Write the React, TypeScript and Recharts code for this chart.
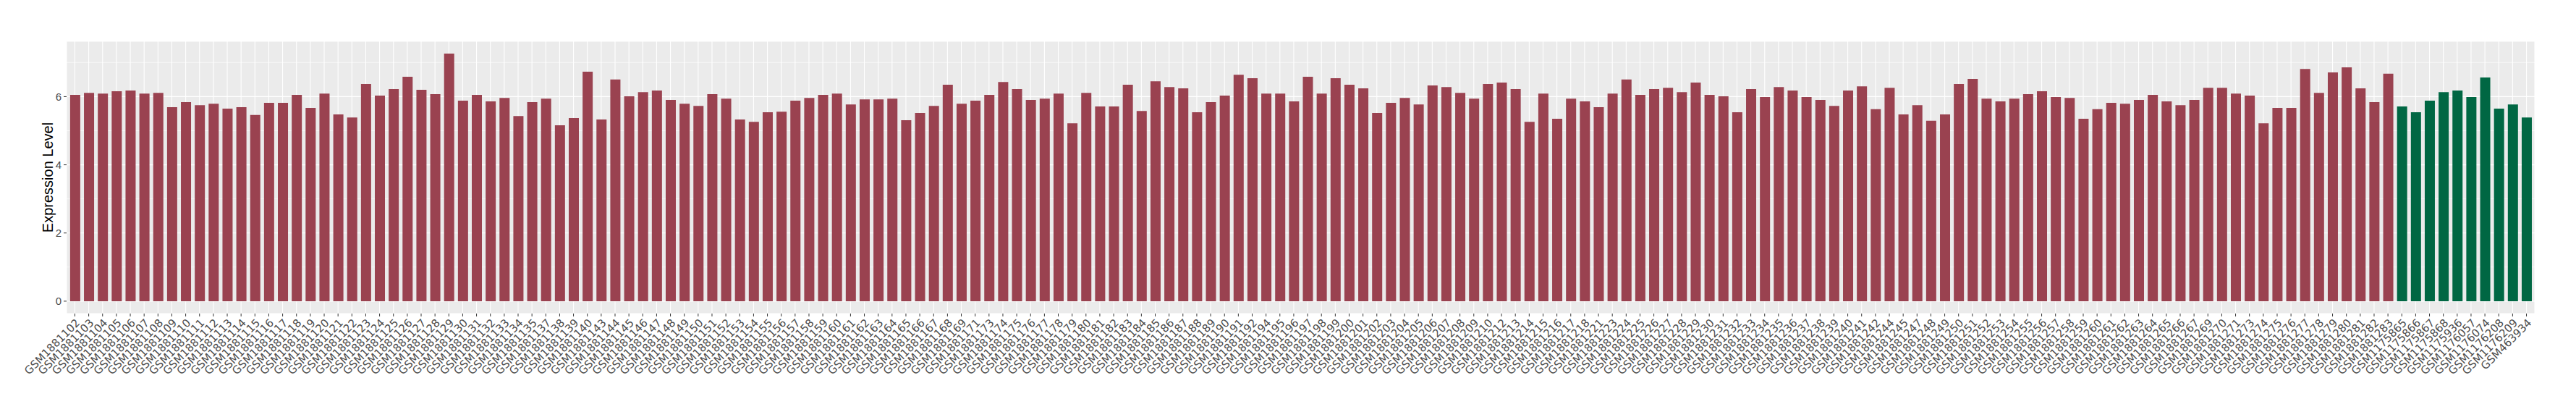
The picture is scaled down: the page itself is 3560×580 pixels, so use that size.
import React from 'react';
import { BarChart, Bar, XAxis, YAxis, CartesianGrid, Cell } from 'recharts';

const redIds: string[] = [
  'GSM1881102','GSM1881103','GSM1881104','GSM1881105','GSM1881106','GSM1881107','GSM1881108','GSM1881109','GSM1881110','GSM1881111',
  'GSM1881112','GSM1881113','GSM1881114','GSM1881115','GSM1881116','GSM1881117','GSM1881118','GSM1881119','GSM1881120','GSM1881121',
  'GSM1881122','GSM1881123','GSM1881124','GSM1881125','GSM1881126','GSM1881127','GSM1881128','GSM1881129','GSM1881130','GSM1881131',
  'GSM1881132','GSM1881133','GSM1881134','GSM1881135','GSM1881137','GSM1881138','GSM1881139','GSM1881140','GSM1881143','GSM1881144',
  'GSM1881145','GSM1881146','GSM1881147','GSM1881148','GSM1881149','GSM1881150','GSM1881151','GSM1881152','GSM1881153','GSM1881154',
  'GSM1881155','GSM1881156','GSM1881157','GSM1881158','GSM1881159','GSM1881160','GSM1881161','GSM1881162','GSM1881163','GSM1881164',
  'GSM1881165','GSM1881166','GSM1881167','GSM1881168','GSM1881169','GSM1881171','GSM1881173','GSM1881174','GSM1881175','GSM1881176',
  'GSM1881177','GSM1881178','GSM1881179','GSM1881180','GSM1881181','GSM1881182','GSM1881183','GSM1881184','GSM1881185','GSM1881186',
  'GSM1881187','GSM1881188','GSM1881189','GSM1881190','GSM1881191','GSM1881192','GSM1881194','GSM1881195','GSM1881196','GSM1881197',
  'GSM1881198','GSM1881199','GSM1881200','GSM1881201','GSM1881202','GSM1881203','GSM1881204','GSM1881205','GSM1881206','GSM1881207',
  'GSM1881208','GSM1881209','GSM1881210','GSM1881212','GSM1881213','GSM1881214','GSM1881215','GSM1881216','GSM1881217','GSM1881218',
  'GSM1881221','GSM1881223','GSM1881224','GSM1881225','GSM1881226','GSM1881227','GSM1881228','GSM1881229','GSM1881230','GSM1881231',
  'GSM1881232','GSM1881233','GSM1881234','GSM1881235','GSM1881236','GSM1881237','GSM1881238','GSM1881239','GSM1881240','GSM1881241',
  'GSM1881242','GSM1881244','GSM1881245','GSM1881247','GSM1881248','GSM1881249','GSM1881250','GSM1881251','GSM1881252','GSM1881253',
  'GSM1881254','GSM1881255','GSM1881256','GSM1881257','GSM1881258','GSM1881259','GSM1881260','GSM1881261','GSM1881262','GSM1881263',
  'GSM1881264','GSM1881265','GSM1881266','GSM1881267','GSM1881269','GSM1881270','GSM1881271','GSM1881273','GSM1881274','GSM1881275',
  'GSM1881276','GSM1881277','GSM1881278','GSM1881279','GSM1881280','GSM1881281','GSM1881282','GSM1881283',
];

const redValues: number[] = [
  6.05, 6.11, 6.09, 6.16, 6.18, 6.09, 6.11, 5.69, 5.84, 5.75,
  5.79, 5.65, 5.69, 5.46, 5.82, 5.82, 6.05, 5.67, 6.09, 5.48,
  5.39, 6.37, 6.03, 6.22, 6.58, 6.20, 6.07, 7.26, 5.88, 6.05,
  5.86, 5.96, 5.43, 5.84, 5.94, 5.16, 5.37, 6.73, 5.33, 6.50,
  6.01, 6.13, 6.18, 5.90, 5.79, 5.73, 6.07, 5.94, 5.33, 5.26,
  5.54, 5.56, 5.88, 5.96, 6.05, 6.09, 5.77, 5.92, 5.92, 5.94,
  5.31, 5.52, 5.73, 6.35, 5.79, 5.88, 6.05, 6.43, 6.22, 5.90,
  5.94, 6.09, 5.22, 6.11, 5.71, 5.71, 6.35, 5.58, 6.45, 6.28,
  6.24, 5.54, 5.84, 6.03, 6.64, 6.54, 6.09, 6.09, 5.86, 6.58,
  6.09, 6.54, 6.35, 6.24, 5.52, 5.82, 5.96, 5.77, 6.33, 6.28,
  6.11, 5.94, 6.37, 6.41, 6.22, 5.26, 6.09, 5.35, 5.94, 5.86,
  5.69, 6.09, 6.50, 6.05, 6.22, 6.26, 6.13, 6.41, 6.05, 6.01,
  5.54, 6.22, 5.99, 6.28, 6.18, 5.99, 5.90, 5.73, 6.18, 6.30,
  5.63, 6.26, 5.48, 5.75, 5.29, 5.48, 6.37, 6.52, 5.94, 5.86,
  5.94, 6.07, 6.16, 5.99, 5.96, 5.35, 5.63, 5.82, 5.79, 5.90,
  6.05, 5.86, 5.75, 5.90, 6.26, 6.26, 6.09, 6.03, 5.22, 5.67,
  5.67, 6.81, 6.11, 6.71, 6.86, 6.24, 5.84, 6.67,
];

const greenIds: string[] = [
  'GSM1175865','GSM1175866','GSM1175867','GSM1175868','GSM1175936',
  'GSM1176057','GSM1176074','GSM1176208','GSM1176209','GSM463934',
];

const greenValues: number[] = [5.71, 5.54, 5.88, 6.13, 6.18, 5.99, 6.56, 5.65, 5.77, 5.39];

const yTicks: number[] = [0, 2, 4, 6];
const yMinorTicks: number[] = [1, 3, 5, 7];
const yTitle = 'Expression Level';

const RED = '#9A4250';
const GREEN = '#006743';

const data = [
  ...redIds.map((id, i) => ({ id, value: redValues[i], group: 'red' })),
  ...greenIds.map((id, i) => ({ id, value: greenValues[i], group: 'green' })),
];

const dataMax = Math.max(...data.map((d) => d.value));
const pad = dataMax * 0.05;
const yDomain: [number, number] = [-pad, dataMax + pad];

const W = 3560;
const H = 580;
const M_TOP = 57;
const M_RIGHT = 57;
const X_AXIS_H = 147;
const Y_AXIS_W = 92;
const PLOT_H = H - M_TOP - X_AXIS_H;

const XTick = (props: any) => {
  const { x, y, payload } = props;
  return (
    <g transform={`translate(${x},${y})`}>
      <text
        transform="rotate(-45)"
        textAnchor="end"
        dy="0.74em"
        fontFamily="DejaVu Sans"
        fontSize={15}
        fill="#4D4D4D"
      >
        {payload.value}
      </text>
    </g>
  );
};

const YTitle = () => {
  const cx = 66;
  const cy = M_TOP + PLOT_H / 2;
  return (
    <text
      x={cx}
      y={cy}
      transform={`rotate(-90, ${cx}, ${cy})`}
      textAnchor="middle"
      dominantBaseline="central"
      fontFamily="Liberation Sans"
      fontSize={20}
      fill="#000"
    >
      {yTitle}
    </text>
  );
};

const minorGenerator = (args: any) => {
  const yAxis = args?.yAxis;
  const scale = yAxis?.scale;
  if (scale) {
    const f = typeof scale === 'function' ? scale : scale.map?.bind(scale);
    if (f) return yMinorTicks.map((v) => f(v));
  }
  const off = args.offset;
  return yMinorTicks.map(
    (v) => off.top + (off.height * (yDomain[1] - v)) / (yDomain[1] - yDomain[0])
  );
};

export default function App() {
  return (
    <div style={{ position: 'absolute', left: 0, top: 0, width: W, height: H, background: '#fff' }}>
      <BarChart
        width={W}
        height={H}
        data={data}
        margin={{ top: M_TOP, right: M_RIGHT, bottom: 0, left: 0 }}
        barSize={14}
      >
        <CartesianGrid
          fill="#EBEBEB"
          stroke="#FFFFFF"
          strokeWidth={0.6}
          vertical={false}
          horizontalCoordinatesGenerator={minorGenerator}
        />
        <CartesianGrid stroke="#FFFFFF" strokeWidth={1.1} fill="none" />
        <XAxis
          dataKey="id"
          type="category"
          interval={0}
          height={X_AXIS_H}
          padding={{ left: 1.9, right: 1.9 }}
          axisLine={false}
          tickLine={{ stroke: '#333333' }}
          tickSize={4}
          tickMargin={2}
          tick={<XTick />}
        />
        <YAxis
          type="number"
          width={Y_AXIS_W}
          domain={yDomain}
          allowDataOverflow
          ticks={yTicks}
          axisLine={false}
          tickLine={{ stroke: '#333333' }}
          tickSize={4}
          tickMargin={3}
          tick={{ fill: '#4D4D4D', fontSize: 15, fontFamily: 'Liberation Sans' }}
          label={<YTitle />}
        />
        <Bar dataKey="value" isAnimationActive={false}>
          {data.map((d, i) => (
            <Cell key={i} fill={d.group === 'red' ? RED : GREEN} />
          ))}
        </Bar>
      </BarChart>
    </div>
  );
}
